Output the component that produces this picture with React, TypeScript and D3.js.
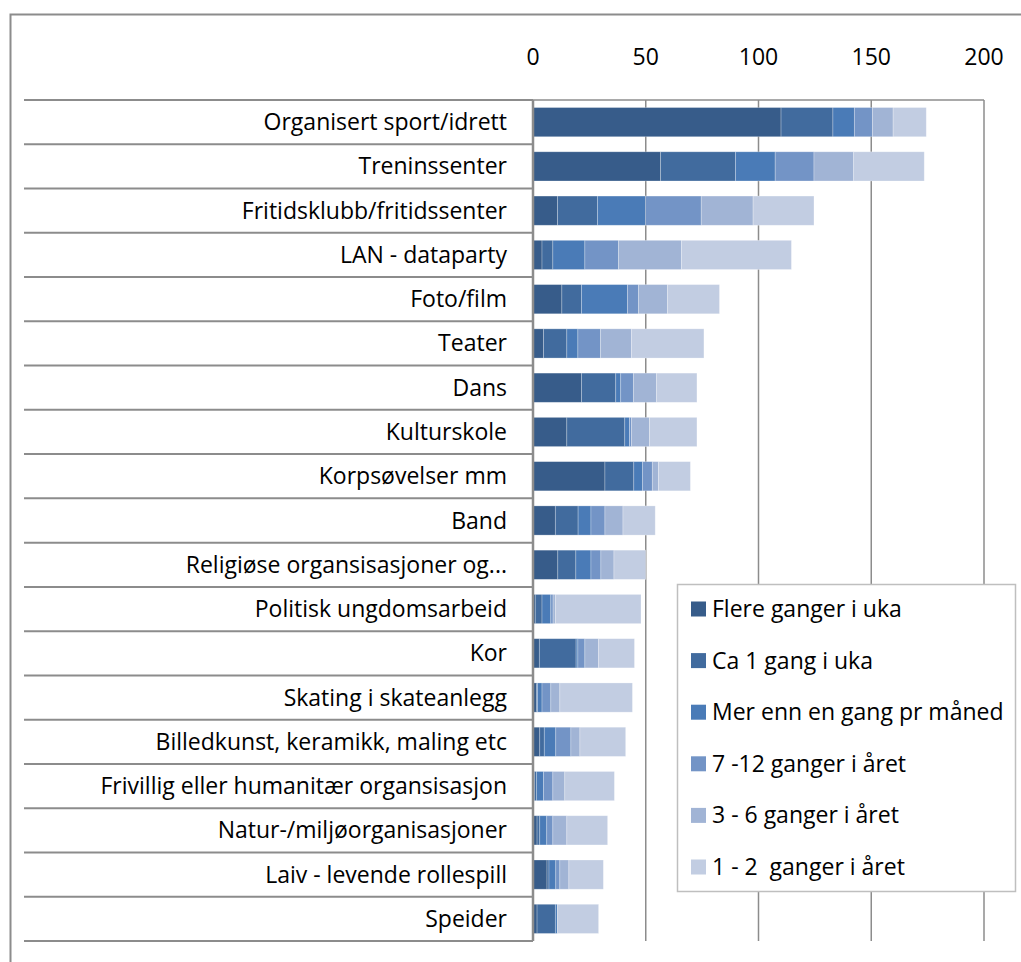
import React, { useEffect, useRef } from "react";
import * as d3 from "d3";

const categories = [
  "Organisert sport/idrett",
  "Treninssenter",
  "Fritidsklubb/fritidssenter",
  "LAN - dataparty",
  "Foto/film",
  "Teater",
  "Dans",
  "Kulturskole",
  "Korpsøvelser mm",
  "Band",
  "Religiøse organsisasjoner og...",
  "Politisk ungdomsarbeid",
  "Kor",
  "Skating i skateanlegg",
  "Billedkunst, keramikk, maling etc",
  "Frivillig eller humanitær organsisasjon",
  "Natur-/miljøorganisasjoner",
  "Laiv - levende rollespill",
  "Speider",
];

const seriesNames = [
  "Flere ganger i uka",
  "Ca 1 gang i uka",
  "Mer enn en gang pr måned",
  "7 -12 ganger i året",
  "3 - 6 ganger i året",
  "1 - 2  ganger i året",
];

const flere = [110, 56.6, 10.9, 4, 12.8, 4.7, 21.5, 15, 31.9, 9.9, 11, 1, 2.8, 1.5, 3, 0.7, 1.8, 6.2, 1.8];
const ca1 = [23, 33.2, 17.7, 4.8, 8.7, 10.3, 15.2, 25.7, 12.8, 10.1, 8, 3, 16.3, 0.5, 2, 0.8, 1.2, 0.9, 8.1];
const merEnn = [9.5, 17.6, 21.3, 14.2, 20.4, 4.9, 2.2, 2.1, 3.8, 5.7, 6.7, 3.9, 0.8, 2, 5.1, 3.2, 3.1, 3, 0.9];
const g712 = [8, 17.2, 24.7, 14.9, 4.9, 10, 5.6, 0.9, 4.4, 6.2, 4.4, 1, 3.1, 3.9, 6.7, 4.1, 2.7, 1.8, 0];
const g36 = [9.2, 17.6, 23, 27.9, 12.8, 13.8, 10.2, 7.9, 2.7, 8, 5.8, 1, 6.1, 4, 4, 5.3, 6.2, 4, 0];
const g12 = [14.7, 31.3, 27, 48.8, 23.1, 32.1, 18, 21.1, 14.2, 14.3, 14.1, 38, 15.9, 32.2, 20.3, 22, 18.1, 15.3, 18.3];

const tickValues = [0, 50, 100, 150, 200];
const colors = ["#375c8a", "#416b9e", "#4a7bb7", "#7394c6", "#a1b4d5", "#c2cde2"];

const FONT = "'Open Sans', Lato, sans-serif";
const FS = 23;

export default function App() {
  const ref = useRef<SVGSVGElement>(null);

  useEffect(() => {
    document.body.style.margin = "0";
    const svg = d3.select(ref.current);
    svg.selectAll("*").remove();

    const W = 1021, H = 962;
    const left = 533, right = 984, top = 100, bottom = 941;

    const x = d3.scaleLinear().domain([0, 200]).range([left, right]);
    const y = d3.scaleBand().domain(categories).range([top, bottom]).paddingInner(0.34).paddingOuter(0.17);

    const rows = categories.map((c, i) => {
      const r: any = { cat: c };
      [flere, ca1, merEnn, g712, g36, g12].forEach((arr, j) => (r[seriesNames[j]] = arr[i]));
      return r;
    });
    const stacked = d3.stack().keys(seriesNames)(rows);

    svg.append("rect").attr("width", W).attr("height", H).attr("fill", "#fff");

    // outer frame (top + left)
    svg.append("path").attr("d", `M10.5,${H} V14.5 H${W}`).attr("fill", "none")
      .attr("stroke", "#8c8c8c").attr("stroke-width", 2);

    // gridlines
    svg.append("g").selectAll("line").data(tickValues.slice(1)).join("line")
      .attr("x1", d => x(d)).attr("x2", d => x(d)).attr("y1", top).attr("y2", bottom)
      .attr("stroke", "#8c8c8c").attr("stroke-width", 1.5);

    // top border of plot
    svg.append("line").attr("x1", left).attr("x2", right).attr("y1", top).attr("y2", top)
      .attr("stroke", "#8c8c8c").attr("stroke-width", 1.5);

    // row separators on the left
    const bounds = d3.range(categories.length + 1).map(i => top + (i * (bottom - top)) / categories.length);
    svg.append("g").selectAll("line").data(bounds).join("line")
      .attr("x1", 24).attr("x2", left).attr("y1", d => d).attr("y2", d => d)
      .attr("stroke", "#8c8c8c").attr("stroke-width", 2);

    // bars
    svg.append("g").selectAll("g").data(stacked).join("g")
      .attr("fill", (d, i) => colors[i])
      .selectAll("rect").data(d => d).join("rect")
      .attr("x", d => x(d[0]))
      .attr("width", d => Math.max(0, x(d[1]) - x(d[0])))
      .attr("y", d => y((d.data as any).cat)!)
      .attr("height", y.bandwidth())
      .attr("stroke", "#ffffff").attr("stroke-opacity", 0.35).attr("stroke-width", 0.75);

    // axis line
    svg.append("line").attr("x1", left).attr("x2", left).attr("y1", top).attr("y2", bottom)
      .attr("stroke", "#8c8c8c").attr("stroke-width", 2.5);

    // tick labels
    svg.append("g").selectAll("text").data(tickValues).join("text")
      .attr("x", d => x(d)).attr("y", 65).attr("text-anchor", "middle")
      .attr("font-family", FONT).attr("font-size", FS).attr("fill", "#000")
      .text(d => d);

    // category labels
    svg.append("g").selectAll("text").data(categories).join("text")
      .attr("x", 507).attr("y", d => y(d)! + y.bandwidth() / 2 + 8)
      .attr("text-anchor", "end")
      .attr("font-family", FONT).attr("font-size", FS).attr("fill", "#000")
      .text(d => d);

    // legend
    const lg = svg.append("g");
    lg.append("rect").attr("x", 677.5).attr("y", 584.5).attr("width", 338).attr("height", 307)
      .attr("fill", "#fff").attr("stroke", "#bfbfbf").attr("stroke-width", 1.5);
    const item = lg.selectAll("g").data(seriesNames).join("g")
      .attr("transform", (d, i) => `translate(691, ${609 + i * 51.6})`);
    item.append("rect").attr("x", 0).attr("y", -7.5).attr("width", 15).attr("height", 15)
      .attr("fill", (d, i) => colors[i]);
    item.append("text").attr("x", 21).attr("y", 8).attr("font-family", FONT).attr("font-size", FS)
      .attr("fill", "#000").style("white-space", "pre").text(d => d);
  }, []);

  return <svg ref={ref} width={1021} height={962} style={{ display: "block" }} />;
}
